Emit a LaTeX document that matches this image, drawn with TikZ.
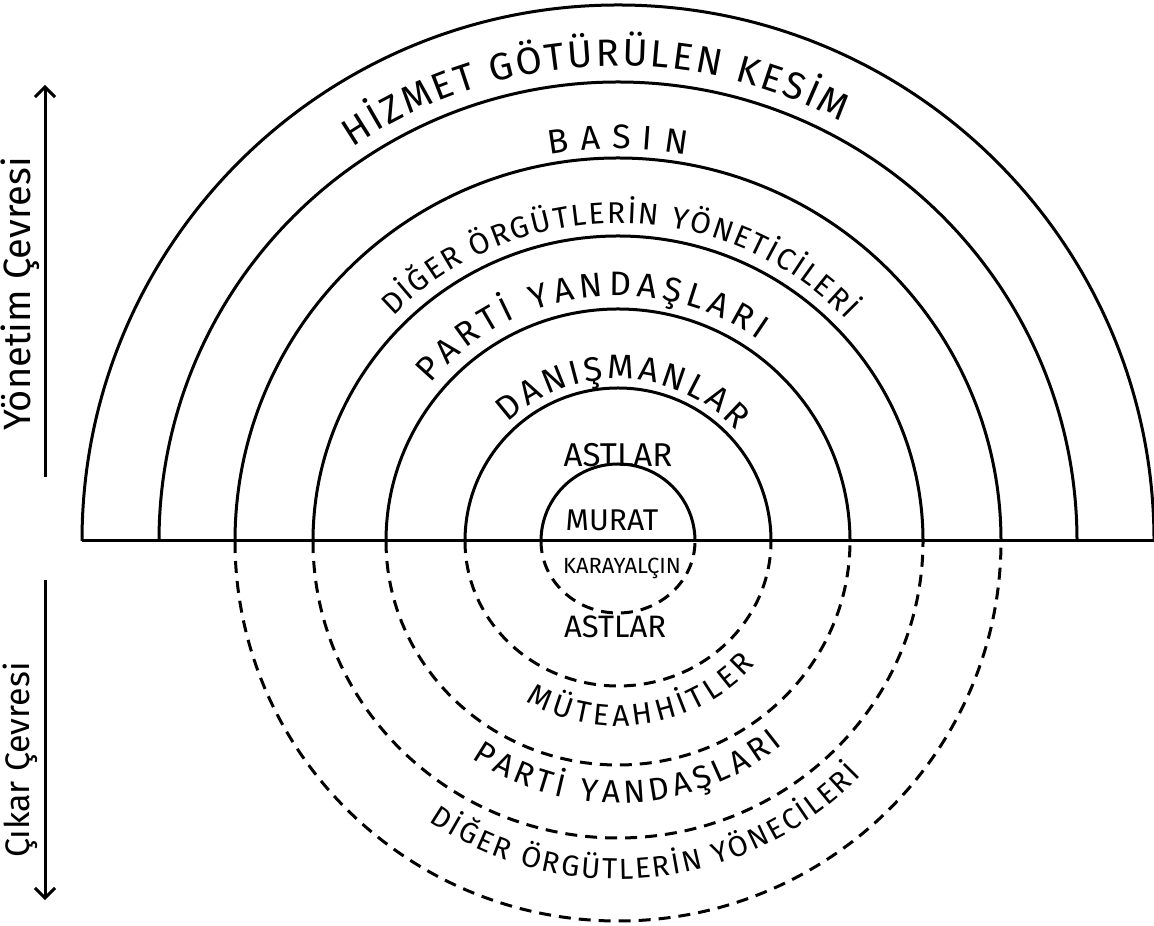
\documentclass[tikz,border=0pt]{standalone}
\usepackage{fontspec}
\setmainfont{Fira Sans}
\usetikzlibrary{decorations.text,arrows.meta}
\newcommand\uparctext[5]{%
  \path[decorate,decoration={text along path,text align=fit to path,
    text={|\fontsize{#4}{#4}\selectfont|#5}}]
    ([shift={(#2:#1)}]C) arc[start angle=#2,end angle=#3,radius=#1];}
\newcommand\lowarctext[5]{%
  \path[decorate,decoration={text along path,text align=fit to path,
    text={|\fontsize{#4}{#4}\selectfont|#5}}]
    ([shift={(#2:#1)}]C) arc[start angle=#2,end angle=#3,radius=#1];}
\begin{document}
\begin{tikzpicture}[x=0.5pt,y=0.5pt,
  ring/.style={line width=1.5pt},
  dring/.style={line width=1.5pt,dash pattern=on 6pt off 4pt},
  lbl/.style={inner sep=0pt,font=\fontsize{#1}{#1}\selectfont},
  side/.style={inner sep=0pt,rotate=90,font=\fontsize{#1}{#1}\selectfont},
  axis/.style={line width=1.5pt,-{Straight Barb[length=5pt,width=10pt,line width=1.5pt]}}]
\useasboundingbox (0,0) rectangle (1154,925);
\coordinate (C) at (618,384);
\coordinate (L) at (82,384);
\coordinate (R) at (1154,384);
% base line
\draw[ring] (L) -- (R);
% upper solid half circles
\foreach \r in {77,153,232,305,383,459,536}{
  \draw[ring] ([shift={(180:\r)}]C) arc[start angle=180,end angle=0,radius=\r];}
% lower dashed half circles
\foreach \r/\ry in {77/72,153/145,232/224,305/297,383/380}{
  \draw[dring] ([shift={(180:\r)}]C) arc[start angle=180,end angle=360,x radius=\r,y radius=\ry];}
% upper labels
\uparctext{475}{124}{62}{19}{HİZMET GÖTÜRÜLEN KESİM}
\uparctext{392}{100}{80}{17}{BASIN}
\uparctext{318}{135}{44}{15}{DİĞER ÖRGÜTLERİN YÖNETİCİLERİ}
\uparctext{245}{140}{55}{17}{PARTİ YANDAŞLARI}
\uparctext{162}{133}{43}{17}{DANIŞMANLAR}
\node[lbl=16.5] (astu) at (618,470) {ASTLAR};
\node[lbl=15] (murat) at (612,405) {MURAT};
% lower labels
\node[lbl=11] (karay) at (622,357) {KARAYALÇIN};
\node[lbl=15.5] (astl) at (615,298) {ASTLAR};
\lowarctext{185}{240}{318}{15}{MÜTEAHHİTLER}
\lowarctext{262}{236}{309}{16}{PARTİ YANDAŞLARI}
\lowarctext{338}{236}{316}{14.5}{DİĞER ÖRGÜTLERİN YÖNECİLERİ}
% side axes
\coordinate (ya) at (45,448);
\coordinate (yb) at (45,840);
\coordinate (ca) at (45,345);
\coordinate (cb) at (45,25);
\draw[axis] (ya) -- (yb);
\draw[axis] (ca) -- (cb);
\node[side=19] (yon) at (20,631) {Yönetim Çevresi};
\node[side=17] (cik) at (20,165) {Çıkar Çevresi};
\end{tikzpicture}
\end{document}
